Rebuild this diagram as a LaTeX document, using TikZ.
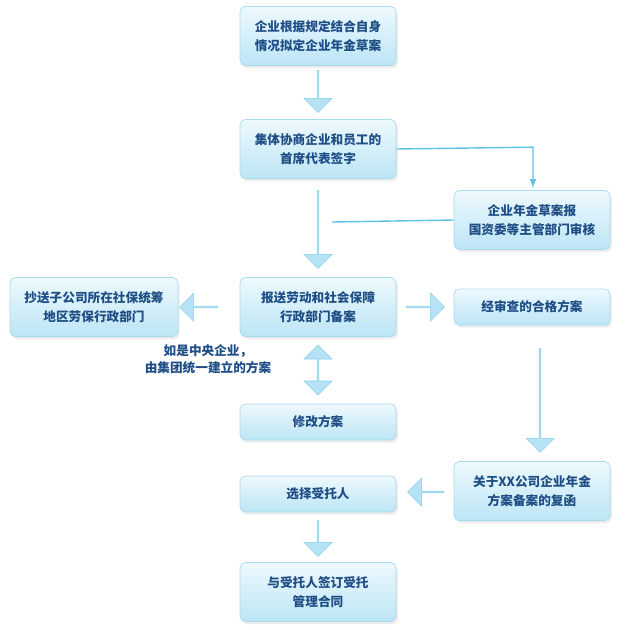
\documentclass[tikz,border=0pt]{standalone}
\usepackage{fontspec}
\setmainfont{Noto Sans CJK SC}
\definecolor{boxtop}{HTML}{EEF9FD}
\definecolor{boxbot}{HTML}{BCE5F5}
\definecolor{boxline}{HTML}{A8DAEE}
\definecolor{txtcolor}{HTML}{1F4E86}
\definecolor{arrcolor}{HTML}{B5E2F4}
\definecolor{arrline}{HTML}{8ACFEA}
\definecolor{linecolor}{HTML}{5FC3E8}
\usetikzlibrary{shapes.arrows, shadows, calc}

\begin{document}
\begin{tikzpicture}[x=0.02cm, y=-0.02cm]
    \tikzset{%
        stage/.style={rounded corners=3pt, top color=boxtop, bottom color=boxbot,
                draw=boxline, drop shadow={opacity=0.15, shadow xshift=1pt, shadow yshift=-1.5pt},
                text=txtcolor, font=\fontsize{7.2}{11}\selectfont\bfseries,
                align=center, minimum width=3.12cm, minimum height=1.18cm, inner sep=1pt},
        short/.style={stage, minimum height=0.72cm},
        blockarrow/.style={single arrow, fill=arrcolor, draw=arrline, line width=0.3pt,
                minimum width=0.56cm, single arrow head extend=0.09cm, inner sep=0pt},
        thinline/.style={linecolor, line width=0.8pt}
    }
    \useasboundingbox (0, 0) rectangle (631, 629);

    \node[stage] (draft) at (318, 36) {企业根据规定结合自身\\情况拟定企业年金草案};
    \node[stage] (sign) at (318, 149) {集体协商企业和员工的\\首席代表签字};
    \node[stage] (review) at (532, 220) {企业年金草案报\\国资委等主管部门审核};
    \node[stage] (file) at (318, 307) {报送劳动和社会保障\\行政部门备案};
    \node[stage, minimum width=3.36cm] (copy) at (94, 307) {抄送子公司所在社保统筹\\地区劳保行政部门};
    \node[short] (pass) at (532, 307) {经审查的合格方案};
    \node[short] (modify) at (318, 422) {修改方案};
    \node[stage] (reply) at (532, 491) {关于XX公司企业年金\\方案备案的复函};
    \node[short] (trustee) at (318, 494) {选择受托人};
    \node[stage] (contract) at (318, 592) {与受托人签订受托\\管理合同};

    \node[text=txtcolor, font=\fontsize{7.2}{10}\selectfont\bfseries, align=center] (note) at (208, 359) {如是中央企业，\\由集团统一建立的方案};

    % block arrows
    \node[blockarrow, minimum height=0.84cm, shape border rotate=270] (a1) at (318, 91) {};
    \node[blockarrow, minimum height=1.56cm, shape border rotate=270] (a2) at (318, 229) {};
    \node[blockarrow, minimum height=0.76cm, shape border rotate=180] (a3) at (199, 307) {};
    \node[blockarrow, minimum height=0.76cm] (a4) at (425, 307) {};
    \node[blockarrow, minimum height=2.08cm, shape border rotate=270] (a5) at (540, 400) {};
    \node[blockarrow, minimum height=0.72cm, shape border rotate=180] (a6) at (426, 492) {};
    \node[blockarrow, minimum height=0.72cm, shape border rotate=270] (a7) at (318, 538) {};
    \node[double arrow, fill=arrcolor, draw=arrline, line width=0.3pt, minimum width=0.56cm,
        double arrow head extend=0.09cm, inner sep=0pt, minimum height=1.0cm,
        shape border rotate=90] (a8) at (318, 370) {};

    % thin connectors
    \coordinate (bend) at ($(review.north) + (1, -43)$);
    \draw[thinline, -latex] (sign.east) -- (bend) -- ($(review.north) + (1, -2)$);
    \coordinate (join) at (332, 222);
    \draw[thinline] (review.west) -- (join);
\end{tikzpicture}
\end{document}
